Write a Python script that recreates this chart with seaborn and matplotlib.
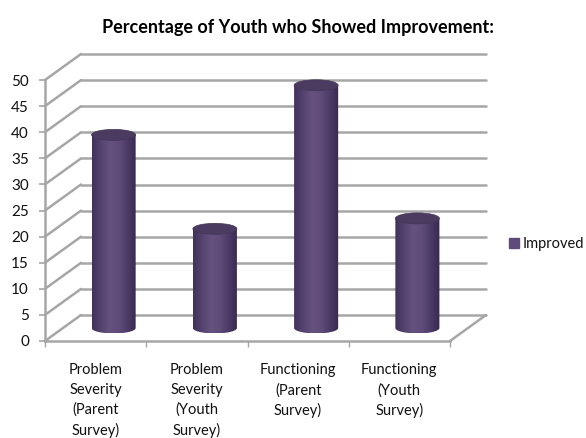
import numpy as np
import matplotlib
matplotlib.use("Agg")
import matplotlib.pyplot as plt
from matplotlib.colors import LinearSegmentedColormap
from matplotlib.patches import Ellipse, Patch, PathPatch
from matplotlib.path import Path
import seaborn as sns

categories = ["Problem\nSeverity\n(Parent\nSurvey)", "Problem\nSeverity\n(Youth\nSurvey)",
              "Functioning\n(Parent\nSurvey)", "Functioning\n(Youth\nSurvey)"]
improved = [37, 19, 46.5, 21]
y_ticks = [0, 5, 10, 15, 20, 25, 30, 35, 40, 45, 50]

sns.set_theme(style="white")
plt.rcParams["font.family"] = ["Lato", "DejaVu Sans"]

W, H = 586, 438
GRID = "#a6a6a6"
fig = plt.figure(figsize=(W / 100, H / 100), dpi=100)
ax = fig.add_axes([45 / W, 1 - 341 / H, 405 / W, 261 / H])

sns.barplot(x=categories, y=improved, width=0.435, color="#5f4b7b", ax=ax, zorder=3)
ax.set_ylim(0, 50)
ax.set_xlim(-0.5, 3.5)

# fake 3d depth, in data units
dx = 36 / (405 / 4)
dy = 26 / (261 / 50)

# walls
for t in y_ticks:
    ax.plot([-0.5, -0.5 + dx], [t, t + dy], color=GRID, lw=1.8, clip_on=False, zorder=1)
    ax.plot([-0.5 + dx, 3.5 + dx], [t + dy, t + dy], color=GRID, lw=1.8, clip_on=False, zorder=1)
ax.plot([3.5, 3.5 + dx], [0, dy], color=GRID, lw=1.8, clip_on=False, zorder=1)

# turn the flat bars into cylinders
cmap = LinearSegmentedColormap.from_list(
    "cyl", ["#41325a", "#54426f", "#67527f", "#604c79", "#4c3b67", "#38294e"])
shade = np.linspace(0, 1, 128).reshape(1, -1)
for bar in list(ax.patches):
    x0 = bar.get_x() + dx / 2
    w = bar.get_width()
    base = dy / 2
    top = bar.get_height() + base
    ry = 1.05
    bar.set_visible(False)
    t = np.linspace(np.pi, 2 * np.pi, 40)
    xs = x0 + w / 2 + w / 2 * np.cos(t)
    ys = base + ry * np.sin(t)
    verts = list(zip(xs, ys)) + [(x0 + w, top), (x0, top), (xs[0], ys[0])]
    body = PathPatch(Path(verts), transform=ax.transData, fc="none", ec="none")
    ax.add_patch(body)
    im = ax.imshow(shade, extent=[x0, x0 + w, base - ry, top], aspect="auto",
                   cmap=cmap, zorder=3)
    im.set_clip_path(body)
    ax.add_patch(Ellipse((x0 + w / 2, top), w, 2 * ry, fc="#4b3b60", ec="#443557",
                         lw=0.5, zorder=4, clip_on=False))
ax.set_xlim(-0.5, 3.5)
ax.set_ylim(0, 50)

sns.despine(ax=ax, top=True, right=True)
for side in ["left", "bottom"]:
    ax.spines[side].set_color(GRID)
    ax.spines[side].set_linewidth(1.8)
    ax.spines[side].set_zorder(2)

ax.set_yticks(y_ticks)
ax.tick_params(axis="y", which="major", left=True, length=4.5, width=1.2, color=GRID,
               labelsize=11, labelcolor="#111111", pad=7)
ax.set_xticks(range(len(categories)))
ax.set_xticklabels(categories, linespacing=1.5)
ax.set_xticks(np.arange(-0.5, 4, 1), minor=True)
ax.tick_params(axis="x", which="major", bottom=False, labelsize=10.5, labelcolor="#111111", pad=10)
ax.tick_params(axis="x", which="minor", bottom=True, length=4, width=1, color=GRID)

fig.text(298 / W, 1 - 27 / H, "Percentage of Youth who Showed Improvement:",
         ha="center", va="center", fontsize=13, fontweight="bold", color="black")

fig.legend(handles=[Patch(color="#5f4b7b", label="Improved")], loc="center left",
           bbox_to_anchor=(496 / W, 1 - 244 / H), frameon=False, fontsize=10.5,
           handlelength=0.65, handleheight=0.7, handletextpad=0.3, labelcolor="#111111")

fig.savefig("out.png", dpi=100)
